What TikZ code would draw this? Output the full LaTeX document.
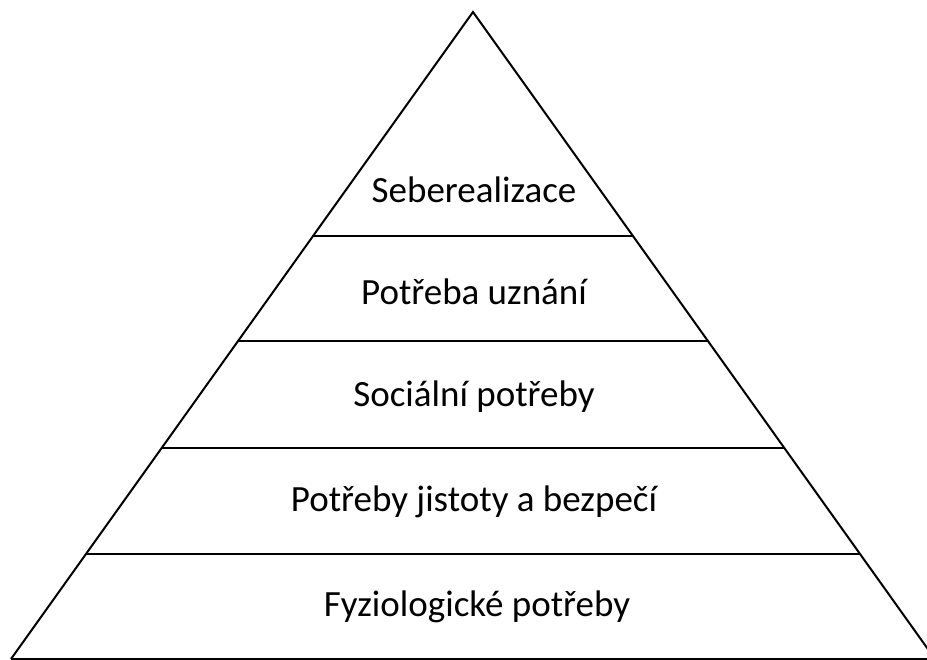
\documentclass[tikz,border=0pt]{standalone}
\usepackage{fontspec}
\setmainfont{Carlito}
\usetikzlibrary{calc}
\begin{document}
\begin{tikzpicture}[x=1pt,y=-1pt,
  edge/.style={line width=2pt,line join=miter},
  lbl/.style={font=\fontsize{37}{44}\selectfont,inner sep=0pt,anchor=center}]
\useasboundingbox (0,0) rectangle (927,660);
\fill[white] (0,0) rectangle (927,660);
\begin{scope}
\clip (0,0) rectangle (927,660);
\coordinate (apex) at (473,12);
\coordinate (bl) at (11,659);
\coordinate (br) at (935,659);
\draw[edge] (bl) -- (apex) -- (br);
\draw[line width=1.6pt] (bl) -- (br);
\foreach \t in {0.3462,0.5085,0.6739,0.8377}{
  \draw[edge] ($(apex)!\t!(bl)$) -- ($(apex)!\t!(br)$);
}
\end{scope}
\node[lbl] (l1) at (474,190) {Seberealizace};
\node[lbl] (l2) at (474,292) {Potřeba uznání};
\node[lbl] (l3) at (474,397) {Sociální potřeby};
\node[lbl] (l4) at (474,502) {Potřeby jistoty a bezpečí};
\node[lbl] (l5) at (477,607) {Fyziologické potřeby};
\end{tikzpicture}
\end{document}
